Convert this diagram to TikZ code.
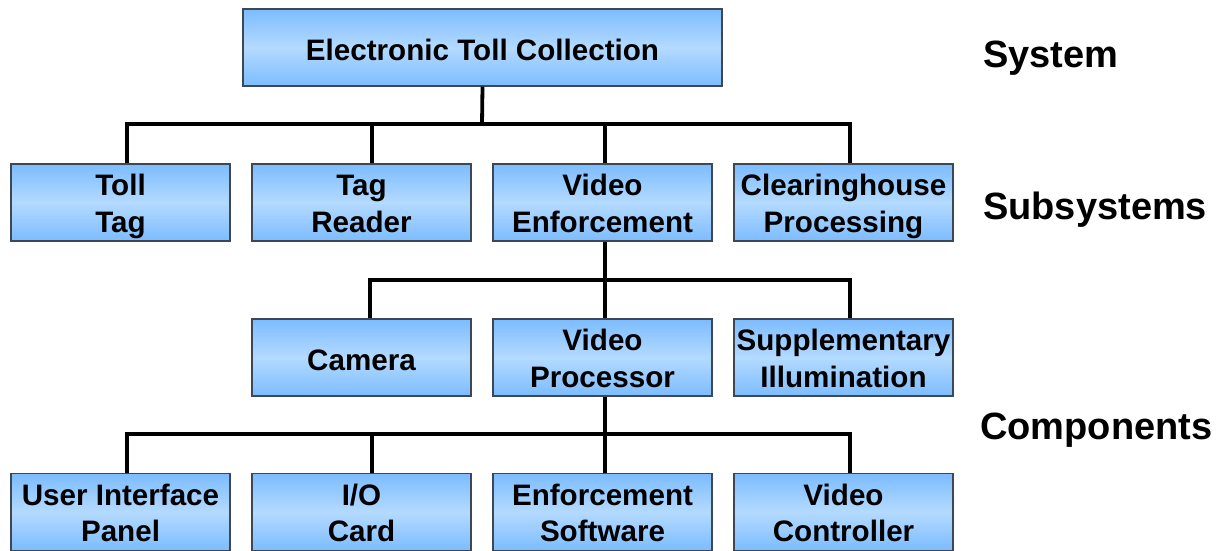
\documentclass[tikz,border=0pt]{standalone}
\usepackage{fontspec}
\setmainfont{Liberation Sans}
\usetikzlibrary{calc}

\definecolor{boxedge}{RGB}{124,188,255}
\definecolor{boxmid}{RGB}{180,218,255}
\definecolor{boxline}{RGB}{62,72,84}

\begin{document}
\begin{tikzpicture}[x=1pt, y=-1pt,
  unit/.style={draw=boxline, line width=1.3pt,
    top color=boxedge, bottom color=boxedge, middle color=boxmid,
    minimum width=219pt, minimum height=77pt, inner sep=0pt,
    align=center, font=\fontsize{29.6}{36.3}\selectfont\bfseries,
    text height=25pt, text depth=0pt},
  % two-line labels: fixed metrics above the last baseline
  pair/.style={unit, text height=59pt, text depth=0pt},
  link/.style={line width=3.8pt, black, line join=miter},
  tier/.style={anchor=base west, inner sep=0pt,
    font=\fontsize{38}{44}\selectfont\bfseries}]

% page frame
\fill[white] (0,0) rectangle (1225,550);
\useasboundingbox (0,0) rectangle (1225,550);

% system
\node[unit, minimum width=479pt] (etc) at (482.5,47.5) {Electronic Toll Collection};

% subsystems
\node[pair] (tt) at (120.5,202.5) {Toll\\Tag};
\node[pair] (tr) at (361.5,202.5) {Tag\\Reader};
\node[pair] (ve) at (602.5,202.5) {Video\\Enforcement};
\node[pair] (ch) at (843.5,202.5) {Clearinghouse\\Processing};

% components of the video enforcement subsystem
\node[unit] (cam) at (361.5,357.5) {Camera};
\node[pair] (vp)  at (602.5,357.5) {Video\\Processor};
\node[pair] (si)  at (843.5,357.5) {Supplementary\\Illumination};

% parts of the video processor
\node[pair] (uip) at (120.5,512) {User Interface\\Panel};
\node[pair] (io)  at (361.5,512) {I/O\\Card};
\node[pair] (es)  at (602.5,512) {Enforcement\\Software};
\node[pair] (vc)  at (843.5,512) {Video\\Controller};

% tier labels
\node[tier] (lsys) at (983,67)  {System};
\node[tier] (lsub) at (983,219) {Subsystems};
\node[tier] (lcom) at (980,439) {Components};

% bus junctions
\coordinate (bus1) at (482,124);
\coordinate (bus2) at (605,280);
\coordinate (bus3) at (605,434);

% attachment points on the child boxes
\coordinate (p-tt)  at ([xshift=6.5pt]tt.north);
\coordinate (p-tr)  at ([xshift=10.5pt]tr.north);
\coordinate (p-ve)  at ([xshift=2.5pt]ve.north);
\coordinate (p-ch)  at ([xshift=6.5pt]ch.north);
\coordinate (p-cam) at ([xshift=8.5pt]cam.north);
\coordinate (p-vp)  at ([xshift=2.5pt]vp.north);
\coordinate (p-si)  at ([xshift=6.5pt]si.north);
\coordinate (p-uip) at ([xshift=6.5pt]uip.north);
\coordinate (p-io)  at ([xshift=10.5pt]io.north);
\coordinate (p-es)  at ([xshift=2.5pt]es.north);
\coordinate (p-vc)  at ([xshift=6.5pt]vc.north);

% system -> subsystems
\draw[link] (etc.south) -- (bus1);
\draw[link] (p-tt) |- (bus1) -| (p-ch);
\draw[link] (p-tr) -- (p-tr |- bus1);
\draw[link] (p-ve) -- (p-ve |- bus1);

% video enforcement -> its components
\draw[link] (ve.south -| bus2) -- (bus2);
\draw[link] (p-cam) |- (bus2) -| (p-si);
\draw[link] (p-vp) -- (p-vp |- bus2);

% video processor -> its parts
\draw[link] (vp.south -| bus3) -- (bus3);
\draw[link] (p-uip) |- (bus3) -| (p-vc);
\draw[link] (p-io) -- (p-io |- bus3);
\draw[link] (p-es) -- (p-es |- bus3);

\end{tikzpicture}
\end{document}
